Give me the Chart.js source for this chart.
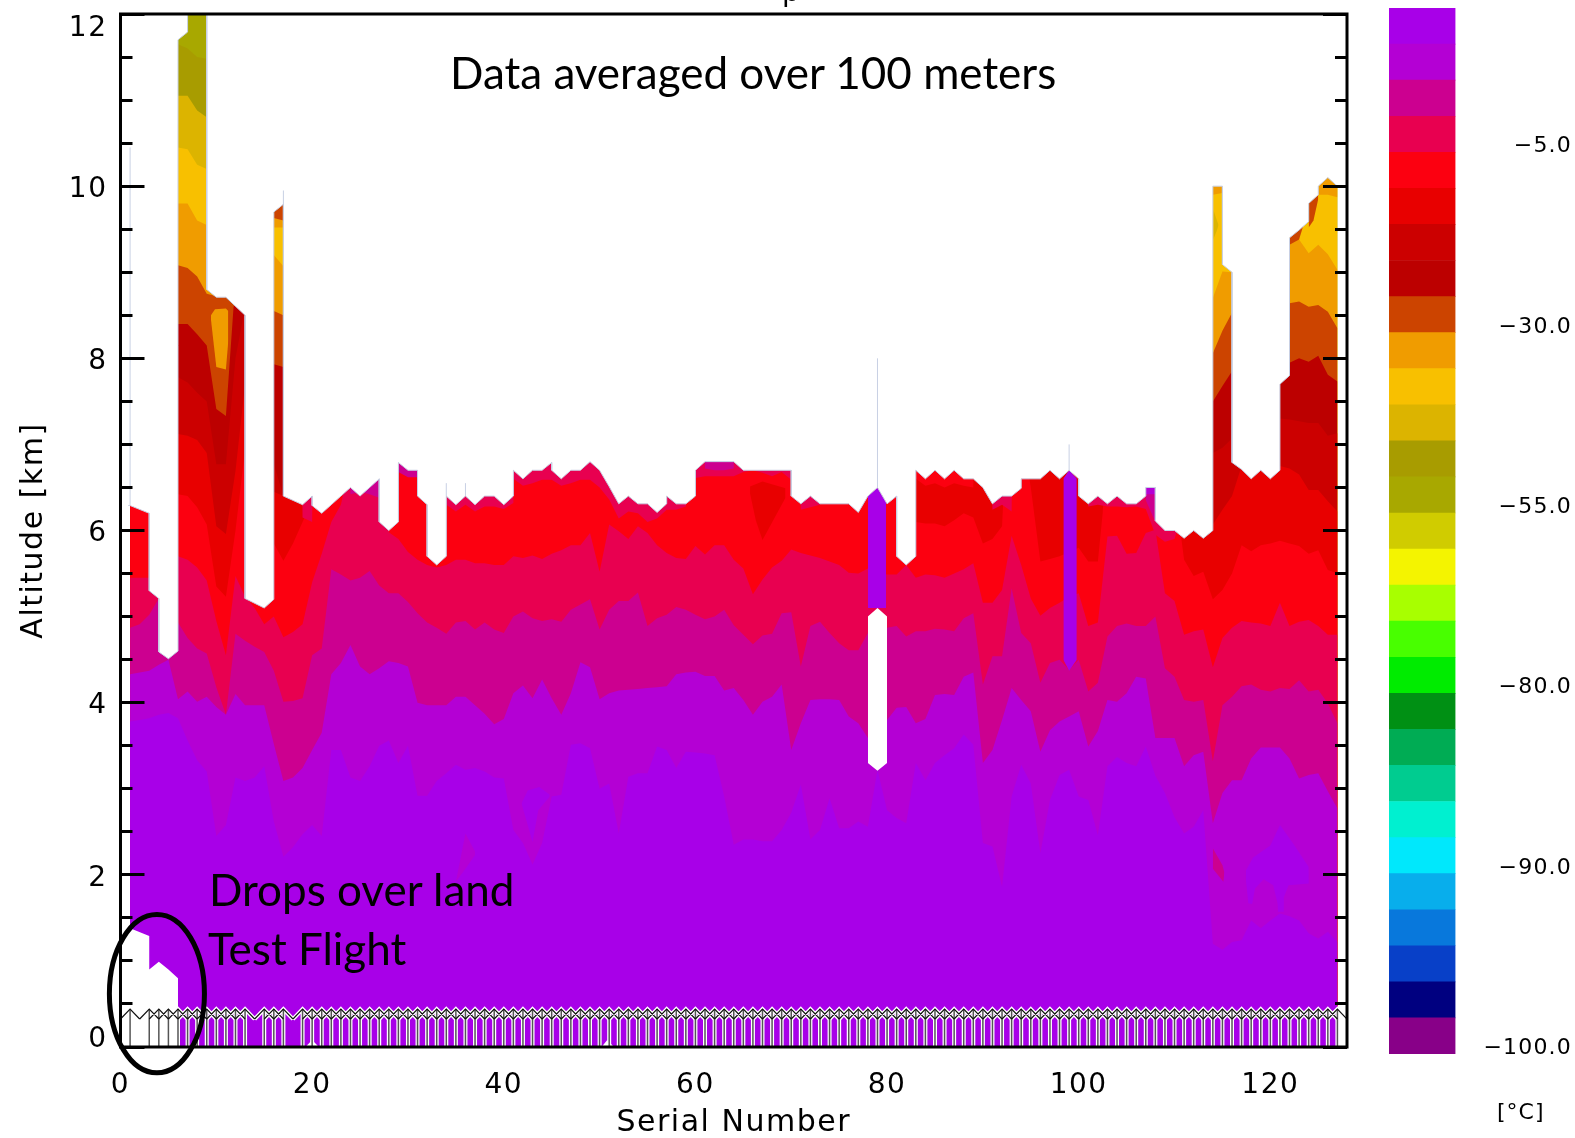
<!DOCTYPE html>
<html>
<head>
<meta charset="utf-8">
<script src="https://cdn.jsdelivr.net/npm/chart.js@4"></script>
<style>
    html, body { margin: 0; padding: 0; background: #fff; }
    #page { position: relative; width: 1575px; height: 1138px; overflow: hidden; }
    canvas { position: absolute; top: 0; }
    .note { position: absolute; font-family: Lato, sans-serif; font-size: 44px; line-height: 1; color: #000; white-space: nowrap; }
    .unit { position: absolute; font-family: "DejaVu Sans", sans-serif; font-size: 22px; letter-spacing: 1px; color: #000; white-space: nowrap; }
</style>
</head>
<body>
<div id="page">
    <canvas id="contour" width="1575" height="1138" style="left:0"></canvas>
    <canvas id="colorbar" width="186" height="1138" style="left:1389px"></canvas>
    <div class="unit" style="left:782px;top:-25px;font-size:28px;">p</div>
    <div class="note" style="left:450px;top:50px;">Data averaged over 100 meters</div>
    <div class="note" style="left:209px;top:867px;">Drops over land</div>
    <div class="note" style="left:208px;top:926px;">Test Flight</div>
    <div class="unit" style="left:1497px;top:1099px;">[°C]</div>
</div>
<script>
(function () {
    const serials = Array.from({ length: 127 }, (_, i) => i + 1);

    // serial numbers of the drops, 2, 14 and 18 are missing
    const dropSerials = serials.filter((s) => s !== 2 && s !== 14 && s !== 18);

    const bandColors = [
        '#a800e8', '#b400d4', '#cc0090', '#e80050', '#fc0010', '#e80000', '#cc0000', '#bc0000',
        '#cc4400', '#f09c00', '#f8c000', '#dcb400', '#a89c00', '#a8a800', '#d0cc00', '#f4f400',
        '#a8ff00', '#48ff00', '#00ec00', '#009014', '#00ac54', '#00cc90', '#00f0d0', '#00e8fc',
        '#08aeec', '#0878dc', '#0840c8', '#000080', '#880088',
    ];
    const barTickLabels = ['\u2212100.0', '\u221290.0', '\u221280.0', '\u221255.0', '\u221230.0', '\u22125.0'];
    const barTickPos = [0.21, 5.21, 10.21, 15.21, 20.21, 25.21];

    const xTicks = { min: 0, max: 128, step: 20 };
    const yTicks = { min: 0, max: 12, major: 2, minor: 0.5 };

    // upper edge of each colour band, one value per serial number [km]
    const topPurple = [
        3.78,3.8,3.82,3.86,3.88,3.82,3.56,3.33,3.2,2.45,2.58,3.13,3.09,3.13,3.26,2.62,2.21,2.32,2.47,2.58,
        2.45,3.45,3.45,3.13,3.09,3.26,3.5,3.56,3.3,3.5,2.92,2.92,3.09,3.18,3.28,3.22,3.24,3.2,3.13,3.12,
        2.52,2.37,2.12,2.37,2.91,2.93,3.51,3.53,3.47,3.0,3.06,2.48,3.14,3.18,3.18,3.49,3.45,3.24,3.43,3.42,
        3.41,3.39,2.91,2.35,2.41,2.41,2.39,2.39,2.52,2.72,3.05,2.41,2.52,2.89,2.54,2.54,2.62,2.56,3.22,2.75,
        2.66,2.6,3.3,3.1,3.3,3.39,3.47,3.63,3.51,2.37,2.33,1.86,2.91,3.28,3.06,2.25,2.87,3.16,3.22,2.91,
        2.87,2.46,3.26,3.37,3.3,3.26,3.49,3.15,2.95,2.67,2.48,2.56,2.75,1.2,1.13,1.22,1.24,1.47,1.38,1.47,
        1.55,1.52,1.47,1.32,1.26,1.34,1.22,
    ];
    const topViolet = [
        4.33,4.35,4.37,4.44,4.5,4.04,4.13,4.01,4.07,3.95,3.86,4.1,3.97,3.97,3.97,3.52,3.09,3.13,3.24,3.45,
        3.65,4.33,4.46,4.67,4.42,4.33,4.4,4.48,4.46,4.42,4.0,3.97,3.97,3.97,4.07,4.07,3.97,3.87,3.75,3.81,
        4.11,4.2,4.05,4.27,4.05,3.86,4.11,4.47,4.41,4.04,4.11,4.14,4.15,4.16,4.17,4.18,4.19,4.33,4.35,4.36,
        4.31,4.31,4.14,4.17,4.03,3.86,4.01,4.07,4.21,3.45,3.76,4.03,4.04,4.04,4.03,3.84,3.76,3.59,3.6,3.8,
        3.94,3.95,3.76,3.81,4.09,4.1,4.09,4.3,4.35,3.3,3.45,3.8,4.17,4.03,3.9,3.43,3.68,3.78,3.84,3.9,
        3.49,3.67,4.03,4.01,4.11,4.3,4.28,3.59,3.59,3.59,3.26,3.39,3.43,2.6,2.95,3.1,3.1,3.35,3.48,3.48,
        3.48,3.35,3.12,3.16,3.18,2.97,2.77,
    ];
    const topMagenta = [
        4.87,4.91,5.02,5.21,5.1,4.93,4.75,4.63,4.57,4.18,3.86,4.8,4.72,4.65,4.59,4.37,4.01,4.02,4.05,4.55,
        4.63,5.55,5.49,5.42,5.45,5.53,5.36,5.27,5.27,5.17,5.04,4.93,4.87,4.8,4.93,4.95,4.85,4.93,4.85,4.81,
        5.0,5.06,4.98,4.95,4.97,4.94,5.08,5.14,5.2,4.85,5.08,5.18,5.18,5.28,4.89,4.98,5.02,5.11,5.08,5.02,
        4.97,5.0,5.08,4.9,4.79,4.68,4.78,4.8,5.04,5.05,4.42,4.89,4.94,4.81,4.69,4.61,4.61,4.81,4.85,4.87,
        4.89,4.77,4.83,4.83,4.86,4.85,4.83,4.98,5.04,4.21,4.54,4.54,5.33,4.81,4.69,4.23,4.46,4.5,4.38,4.5,
        4.13,4.23,4.77,4.89,4.92,4.89,4.89,5.0,4.4,4.3,4.03,4.01,4.03,3.32,3.97,4.07,4.19,4.21,4.15,4.13,
        4.17,4.16,4.26,4.13,4.15,3.99,3.76,
    ];
    const topRose = [
        5.45,5.45,5.45,5.3,5.6,5.7,5.66,5.57,5.42,4.95,4.55,5.47,5.23,5.1,4.91,5.0,4.76,4.82,4.91,5.4,
        5.73,6.1,6.3,6.8,6.8,6.8,6.8,5.98,5.9,5.75,5.66,5.6,5.57,5.6,5.66,5.66,5.62,5.62,5.6,5.6,
        5.7,5.68,5.71,5.67,5.73,5.77,5.83,5.83,5.97,5.52,6.07,5.99,5.9,6.05,5.97,5.83,5.74,5.68,5.67,5.82,
        5.72,5.83,5.83,5.66,5.56,5.26,5.43,5.57,5.65,5.78,5.74,5.71,5.68,5.64,5.6,5.51,5.5,5.56,5.5,5.49,
        5.49,5.6,5.45,5.49,5.48,5.45,5.5,5.55,5.62,5.16,5.16,5.31,5.94,5.6,5.21,5.01,5.1,5.16,5.23,5.27,
        4.89,4.93,5.93,5.94,5.73,5.74,5.97,6.01,5.27,5.18,4.79,4.83,4.85,4.41,4.75,4.87,4.95,4.93,4.92,4.89,
        5.16,4.89,4.94,4.96,4.89,4.79,4.79,
    ];

    // the colder bands only show in a few tall columns, so these are [serial, km] pairs
    const topRed = [[1,7.5],[5,7.5],[6,6.42],[7,6.4],[8,6.27],[9,6.07],[10,5.35],[11,5.23],[12,6.0],[13,6.94],[15,6.9],[16,5.85],[17,5.65],[18,5.85],[19,6.1],[20,6.35],[21,7.2],[82,7.2],[83,6.1],[84,6.08],[85,6.08],[86,6.05],[87,6.12],[88,6.2],[89,6.15],[90,5.85],[91,5.9],[92,6.05],[92.5,7.2],[94,7.2],[95,6.5],[96,5.64],[97,5.67],[98,5.7],[99,5.75],[100,5.8],[101,5.64],[102,5.64],[102.5,6.2],[103,7.2],[110,7.2],[110.6,6],[111,5.66],[112,5.47],[113,5.52],[114,5.2],[115,5.31],[116,5.5],[117,5.83],[118,5.76],[119,5.83],[120,5.85],[121,5.88],[122,5.85],[123,5.82],[124,5.73],[125,5.77],[126,5.54],[127,5.5]];
    const topScarlet = [[1,8],[5,8],[6,7.12],[7,7.1],[8,7.05],[9,6.9],[10,6.05],[11,5.96],[12,6.69],[13,7.7],[15,7.7],[16,6.45],[17,6.4],[18,7.2],[113,7.2],[114,6.07],[115,6.24],[116,6.4],[117,6.75],[121,6.75],[122,6.72],[123,6.65],[124,6.47],[125,6.47],[126,6.34],[127,6.22]];
    const topCrimson = [[1,9],[5,9],[6,7.78],[7,7.72],[8,7.6],[9,7.5],[10,6.77],[11,6.77],[12,8.0],[13,8.6],[15,8.6],[16,6.77],[17,6.4],[18,9],[113,9],[114,6.9],[115,6.96],[116,7.07],[121,7.3],[122,7.29],[123,7.27],[124,7.25],[125,7.25],[126,7.1],[127,7.13]];
    const topDarkRed = [[1,10],[5,10],[6,8.4],[7,8.4],[8,8.28],[9,8.15],[10,7.41],[11,7.33],[11.8,8.6],[13,8.8],[15,8.8],[16,7.93],[17,7.9],[18,10],[113,10],[114,7.5],[115,7.68],[116,7.85],[121,7.7],[122,7.95],[123,8.0],[124,7.96],[125,8.03],[126,7.81],[127,7.73]];
    const topRust = [[1,11],[5,11],[6,9.08],[7,9.05],[8,8.95],[9,8.75],[10,8.72],[11,8.72],[12,8.75],[15,8.8],[16,8.55],[17,8.5],[18,11],[113,11],[114,8.06],[115,8.32],[116,8.53],[121,8.6],[122,8.64],[123,8.66],[124,8.6],[125,8.62],[126,8.54],[127,8.35]];
    const topOrange = [[1,12],[5,12],[6,9.8],[7,9.8],[8,9.6],[9,9.55],[10,12],[15,12],[16,9.2],[17,9.07],[18,12],[113,12],[114,8.7],[115,9.01],[116,9.0],[121,9.3],[122,9.38],[123,9.38],[124,9.22],[125,9.32],[126,9.21],[127,9.03]];
    const topAmber = [[1,12],[5,12],[6,10.45],[7,10.43],[8,10.25],[9,10.2],[10,12],[127,12]];
    const topGold = [[1,12],[5,12],[6,11.05],[7,11.05],[8,10.88],[9,10.8],[10,12],[127,12]];
    const topOlive = [[1,12],[5,12],[6,11.65],[7,11.6],[8,11.5],[9,11.48],[10,12],[127,12]];
    const topKhaki = [[1,12],[127,12]];

    // warmer slivers right under the top of the data, painted from this line upwards
    const edgeRed = [[1,12],[83,12],[83,6.6],[84,6.52],[85,6.55],[86,6.5],[87,6.55],[88,6.52],[89,6.5],[90,12],[127,12]];
    const edgeRose = [[1,12],[18.5,12],[19,6.15],[20,6.1],[20.5,12],[33.8,12],[34,6.3],[35,6.22],[36,6.3],[37,6.22],[38,6.28],[39,6.28],[40,6.25],[41,6.32],[41,6.6],[42,6.52],[43,6.55],[44,6.59],[45,6.59],[46,6.52],[47,6.55],[48,6.59],[49,6.59],[50,6.5],[51,6.36],[52,6.14],[53,6.22],[54,6.2],[55,6.1],[56,6.14],[57,6.24],[58,6.24],[59,6.28],[59.9,12],[60,6.61],[61,6.63],[64,6.63],[65,6.68],[66,6.7],[67,6.67],[68,6.63],[69,6.68],[70,6.59],[70.5,12],[71,6.24],[72,6.27],[73,6.3],[73.5,12],[90.5,12],[91,6.24],[92,6.3],[93,6.22],[93.5,12],[100.5,12],[101,6.28],[102,6.3],[103,6.28],[104,6.28],[105,6.27],[106,6.28],[107,6.25],[108,5.95],[109,5.87],[110,5.9],[110.8,6.2],[111,12],[127,12]];
    const edgeMagenta = [[1,12],[23.8,12],[24,6.42],[25,6.45],[26,6.42],[27,6.38],[27,12],[29,12],[29,6.68],[30,6.62],[31,6.62],[31,12],[44.5,12],[45,6.7],[45.5,12],[48.5,12],[49,6.66],[49.5,12],[60.5,12],[61,6.72],[62,6.7],[63,6.7],[64,6.72],[64.5,12],[106.9,12],[107,6.35],[108,6.1],[108,12],[127,12]];
    const edgeViolet = [[1,12],[26.4,12],[27,6.45],[27,12],[107,12],[107,6.42],[108,6.42],[108,12],[127,12]];
    const edgeRustA = [[16,9.63],[17,9.6]];
    const edgeOrangeA = [[16,9.52],[17,9.52]];
    const edgeOrangeB = [[114,9.9],[115,9.92]];
    const edgeRustB = [[122,9.32],[123,9.38],[123.6,9.6]];
    const edgeRustC = [[124,9.52],[124.5,9.6],[125,9.85]];
    const edgeOrangeC = [[125,9.9],[126,9.9],[127,9.87]];

    // closed patches inside the bands
    const islandOrangeTop = [[9.44,8.5],[9.86,8.57],[11,8.58],[11.25,8.55]];
    const islandOrangeBottom = [[9.44,8.45],[10,7.9],[11,7.87],[11.25,8.2]];
    const islandScarletTop = [[65.7,6.51],[67,6.57],[69.4,6.49]];
    const islandScarletBottom = [[65.7,6.43],[66.3,6.12],[67,5.89],[69.4,6.38]];
    const islandGoldTop = [[114.04,9.73],[114.4,9.61],[114.6,9.55]];
    const islandGoldBottom = [[114.04,9.38],[114.4,9.48],[114.6,9.55]];
    const islandPurpleATop = [[117.45,2.05],[118.2,2.2],[120,2.34],[121,2.58],[122.4,2.36],[124,2.09],[124.02,1.9]];
    const islandPurpleABottom = [[117.45,1.94],[117.7,1.67],[118.1,1.66],[118.4,1.84],[119.3,1.95],[120.3,1.88],[120.75,1.67],[120.8,1.57],[121.4,1.57],[121.41,1.74],[121.9,1.88],[124.02,1.9]];
    const islandMagentaTop = [[114,2.31],[115,2.11],[115.2,2.03]];
    const islandMagentaBottom = [[114,2.07],[115.1,1.92],[115.2,2.03]];
    const islandPurpleBTop = [[41.85,2.83],[42.5,2.98],[43.7,3.02],[44.8,2.93]];
    const islandPurpleBBottom = [[41.85,2.83],[43,2.38],[43.6,2.75],[44.8,2.91]];
    const islandVioletTop = [[35,1.92],[36,2.48],[37,2.27]];
    const islandVioletBottom = [[35,1.92],[36,2.07],[37,2.23]];

    // purple columns and the hole in drop 79
    const column79Top = [[78,6.4],[79,6.5],[79.9,6.33]];
    const column79Bottom = [[78,5.1],[79.9,5.1]];
    const column99Top = [[98.4,6.6],[99,6.7],[99.8,6.6]];
    const column99Bottom = [[98.4,4.5],[99,4.37],[99.8,4.5]];
    const hole79Top = [[78,5.0],[79,5.1],[80,5.0]];
    const hole79Bottom = [[78,3.3],[79,3.21],[80,3.3]];
    const landGap = [[0.8,1.38],[1,1.38],[3,1.29],[3,0.9],[4,0.99],[5,0.9],[6,0.8],[6,0]];
    const nick20 = [[19.3,0],[20,0.08],[20.7,0]];
    const nick51 = [[50.2,0],[50.8,0.08],[51.5,0]];

    // top of the data, white above. Starts and ends just outside the bands so no colour bleeds at the sides
    const dataTop = [[0.8,6.29],[1,6.29],[3,6.2],[3,5.3],[4,5.21],[4,4.59],[5,4.51],[6,4.6],[6,11.7],[7,11.79],[7,12],[9,12],[9,8.8],[10,8.71],[11,8.71],[13,8.5],[13,5.21],[15,5.1],[16,5.2],[16,9.7],[17,9.79],[17,6.4],[19,6.3],[20,6.4],[20,6.29],[21,6.2],[22,6.3],[23,6.4],[24,6.5],[25,6.4],[26,6.5],[27,6.6],[27,6.1],[28,6.0],[29,6.1],[29,6.79],[30,6.7],[31,6.7],[31,6.4],[32,6.3],[32,5.7],[33,5.6],[34,5.7],[34,6.4],[35,6.3],[36,6.4],[37,6.3],[38,6.4],[39,6.4],[40,6.3],[41,6.4],[41,6.7],[42,6.6],[43,6.7],[44,6.7],[45,6.79],[45,6.7],[46,6.6],[47,6.7],[48,6.7],[49,6.8],[50,6.7],[51,6.51],[52,6.31],[53,6.4],[54,6.31],[55,6.31],[56,6.21],[57,6.31],[57,6.4],[58,6.31],[59,6.31],[60,6.4],[60,6.7],[61,6.8],[64,6.8],[65,6.7],[70,6.7],[70,6.4],[71,6.31],[72,6.4],[73,6.31],[76,6.31],[77,6.21],[78,6.4],[79,6.5],[80,6.31],[81,6.4],[81,5.7],[82,5.6],[83,5.7],[83,6.7],[84,6.6],[85,6.7],[86,6.6],[87,6.7],[88,6.6],[89,6.6],[90,6.5],[91,6.31],[92,6.4],[93,6.4],[94,6.49],[94,6.6],[96,6.6],[97,6.7],[98,6.6],[99,6.7],[100,6.6],[100,6.4],[101,6.31],[102,6.4],[103,6.31],[104,6.4],[105,6.31],[106,6.31],[107,6.4],[107,6.5],[108,6.5],[108,6.11],[109,6.0],[110,6.0],[111,5.91],[112,6.0],[113,5.91],[114,6.0],[114,10],[115,10],[115,9.09],[116,9.0],[116,6.79],[117,6.71],[118,6.6],[119,6.7],[120,6.6],[121,6.7],[121,7.7],[122,7.8],[122,9.4],[123,9.49],[124,9.59],[124,9.8],[125,9.9],[125,10],[126,10.1],[127,10],[127.2,10]];

    // hairlines left above a few drops
    const hairlines = [[1,6.29],[1,10.45],[1,null],[17,9.79],[17,9.95],[17,null],[34,6.4],[34,6.55],[34,null],[36,6.4],[36,6.55],[36,null],[79,6.5],[79,8],[79,null],[99,6.7],[99,7]];

    // drop markers along the bottom
    const markerBase = 0;
    const markerShoulder = 0.325;
    const markerTip = 0.44;

    // hand drawn ring round the test flight, serial / km
    const ringCentre = [3.8, 0.62];
    const ringRadius = [4.96, 0.92];

    const pts = (pairs) => pairs.map(([x, y]) => ({ x, y }));
    const bySerial = (values) => values.map((y, i) => ({ x: serials[i], y }));

    const stemPts = [];
    const chevronPts = [];
    dropSerials.forEach((s) => {
        stemPts.push({ x: s, y: markerBase }, { x: s, y: markerTip }, { x: s, y: null });
        chevronPts.push({ x: s - 1, y: markerShoulder }, { x: s, y: markerTip }, { x: s + 1, y: markerShoulder }, { x: s, y: null });
    });

    const line = (data, extra) => Object.assign({
        data,
        pointRadius: 0,
        borderWidth: 0,
        tension: 0,
        fill: false,
        spanGaps: false,
    }, extra);

    // painted back to front, reversed below because Chart.js paints the last dataset first
    const layers = [];
    const band = (data, color) => layers.push(line(data, { fill: 'origin', backgroundColor: color }));
    const edge = (pairs, color) => layers.push(line(pts(pairs), { fill: 'end', backgroundColor: color }));
    const patch = (top, bottom, color) => {
        layers.push(line(pts(bottom)));
        layers.push(line(pts(top), { fill: '+1', backgroundColor: color }));
    };

    band(pts(topKhaki), bandColors[13]);
    band(pts(topOlive), bandColors[12]);
    band(pts(topGold), bandColors[11]);
    band(pts(topAmber), bandColors[10]);
    band(pts(topOrange), bandColors[9]);
    band(pts(topRust), bandColors[8]);
    band(pts(topDarkRed), bandColors[7]);
    band(pts(topCrimson), bandColors[6]);
    band(pts(topScarlet), bandColors[5]);
    band(pts(topRed), bandColors[4]);
    band(bySerial(topRose), bandColors[3]);
    band(bySerial(topMagenta), bandColors[2]);
    band(bySerial(topViolet), bandColors[1]);
    band(bySerial(topPurple), bandColors[0]);

    patch(islandOrangeTop, islandOrangeBottom, bandColors[9]);
    patch(islandScarletTop, islandScarletBottom, bandColors[5]);
    patch(islandGoldTop, islandGoldBottom, bandColors[11]);
    patch(islandPurpleATop, islandPurpleABottom, bandColors[0]);
    patch(islandMagentaTop, islandMagentaBottom, bandColors[2]);
    patch(islandPurpleBTop, islandPurpleBBottom, bandColors[0]);
    patch(islandVioletTop, islandVioletBottom, bandColors[1]);

    edge(edgeRed, bandColors[4]);
    edge(edgeRose, bandColors[3]);
    edge(edgeMagenta, bandColors[2]);
    edge(edgeViolet, bandColors[1]);
    edge(edgeOrangeA, bandColors[9]);
    edge(edgeRustA, bandColors[8]);
    edge(edgeOrangeB, bandColors[9]);
    edge(edgeRustB, bandColors[8]);
    edge(edgeRustC, bandColors[8]);
    edge(edgeOrangeC, bandColors[9]);

    patch(column79Top, column79Bottom, bandColors[0]);
    patch(column99Top, column99Bottom, bandColors[0]);
    patch(hole79Top, hole79Bottom, '#ffffff');

    layers.push(line(pts(dataTop), { fill: 'end', backgroundColor: '#ffffff', borderWidth: 1, borderColor: '#c8d0e4' }));
    layers.push(line(pts(hairlines), { borderWidth: 1, borderColor: '#c8d0e4' }));
    layers.push(line(pts(landGap), { fill: 'origin', backgroundColor: '#ffffff' }));
    layers.push(line(pts(nick20), { fill: 'origin', backgroundColor: '#ffffff' }));
    layers.push(line(pts(nick51), { fill: 'origin', backgroundColor: '#ffffff' }));

    layers.push(line(stemPts, { borderWidth: 4, borderColor: '#ffffff' }));
    layers.push(line(chevronPts, { borderWidth: 4, borderColor: '#ffffff' }));
    layers.push(line(stemPts, { borderWidth: 1.5, borderColor: '#555555' }));
    layers.push(line(chevronPts, { borderWidth: 1.2, borderColor: '#111111' }));

    const sideAxis = (position, step, length, labels) => ({
        type: 'linear',
        position,
        weight: 0,
        min: yTicks.min,
        max: yTicks.max,
        border: { display: false },
        grid: { drawOnChartArea: false, tickLength: -length, tickWidth: 3, tickColor: '#000', z: 1 },
        ticks: Object.assign({ stepSize: step, autoSkip: false, display: false }, labels),
        afterFit: (scale) => { scale.width = 0; scale.paddingTop = 0; scale.paddingBottom = 0; },
    });

    const frame = {
        id: 'frame',
        beforeDraw(chart) {
            chart.ctx.letterSpacing = '1.5px';
        },
        afterDraw(chart) {
            const { ctx, chartArea: a, scales } = chart;
            ctx.save();
            ctx.strokeStyle = '#000';
            ctx.lineWidth = 3;
            ctx.strokeRect(a.left, a.top, a.right - a.left, a.bottom - a.top);
            // ring is a note on top of the chart, so it may run over the axis
            const cx = scales.x.getPixelForValue(ringCentre[0]);
            const cy = scales.y.getPixelForValue(ringCentre[1]);
            const rx = scales.x.getPixelForValue(ringRadius[0]) - scales.x.getPixelForValue(0);
            const ry = scales.y.getPixelForValue(0) - scales.y.getPixelForValue(ringRadius[1]);
            ctx.lineWidth = 5;
            ctx.beginPath();
            ctx.ellipse(cx, cy, rx, ry, 0, 0, Math.PI * 2);
            ctx.stroke();
            ctx.restore();
        },
    };

    new Chart(document.getElementById('contour'), {
        type: 'line',
        data: { datasets: layers.reverse() },
        plugins: [frame],
        options: {
            responsive: false,
            animation: false,
            events: [],
            layout: { padding: { top: 14, right: 228, left: 0, bottom: 0 } },
            plugins: { legend: { display: false }, tooltip: { enabled: false } },
            scales: {
                x: {
                    type: 'linear',
                    min: xTicks.min,
                    max: xTicks.max,
                    border: { display: false },
                    grid: { display: false, drawTicks: false },
                    ticks: {
                        stepSize: xTicks.step,
                        includeBounds: false,
                        maxRotation: 0,
                        padding: 22,
                        color: '#000',
                        font: { family: '"DejaVu Sans"', size: 28 },
                    },
                    title: {
                        display: true,
                        text: 'Serial Number',
                        color: '#000',
                        padding: 0,
                        font: { family: '"DejaVu Sans"', size: 30, lineHeight: 1 },
                    },
                    afterFit: (scale) => { scale.height = 91; scale.paddingLeft = 0; scale.paddingRight = 0; },
                },
                y: Object.assign(sideAxis('left', yTicks.major, 24, {
                    display: true,
                    padding: 37,
                    labelOffset: 3.5,
                    color: '#000',
                    font: { family: '"DejaVu Sans"', size: 28, lineHeight: 0.78 },
                    // end labels sit inside the frame, not on their tick
                    callback: (v) => (v === yTicks.max ? ['', String(v)] : v === yTicks.min ? [String(v), ''] : String(v)),
                }), {
                    weight: 1,
                    title: {
                        display: true,
                        text: 'Altitude [km]',
                        color: '#000',
                        padding: { top: 16, bottom: 0 },
                        font: { family: '"DejaVu Sans"', size: 30 },
                    },
                    afterFit: (scale) => { scale.width = 120.5; scale.paddingTop = 0; scale.paddingBottom = 0; },
                }),
                yMinor: sideAxis('left', yTicks.minor, 12),
                yRight: sideAxis('right', yTicks.major, 24),
                yRightMinor: sideAxis('right', yTicks.minor, 12),
            },
        },
    });

    // colour bar, one stacked block per band, coldest at the bottom
    new Chart(document.getElementById('colorbar'), {
        type: 'bar',
        data: {
            labels: ['T'],
            datasets: bandColors.slice().reverse().map((color) => ({
                data: [1],
                backgroundColor: color,
                borderWidth: 0,
                barPercentage: 1,
                categoryPercentage: 1,
            })),
        },
        plugins: [{ id: 'spacing', beforeDraw(chart) { chart.ctx.letterSpacing = '1.2px'; } }],
        options: {
            responsive: false,
            animation: false,
            events: [],
            layout: { padding: { top: 8, right: 3, left: 0, bottom: 84 } },
            plugins: { legend: { display: false }, tooltip: { enabled: false } },
            scales: {
                x: { display: false, stacked: true },
                y: {
                    position: 'right',
                    stacked: true,
                    min: 0,
                    max: bandColors.length,
                    border: { display: false },
                    grid: { display: false, drawTicks: false },
                    afterBuildTicks: (scale) => { scale.ticks = barTickPos.map((value) => ({ value })); },
                    afterFit: (scale) => { scale.width = 116.5; scale.paddingTop = 0; scale.paddingBottom = 0; },
                    ticks: {
                        autoSkip: false,
                        crossAlign: 'far',
                        labelOffset: 2,
                        color: '#000',
                        font: { family: '"DejaVu Sans"', size: 22 },
                        callback: (v, i) => barTickLabels[i],
                    },
                },
            },
        },
    });
})();
</script>
</body>
</html>
